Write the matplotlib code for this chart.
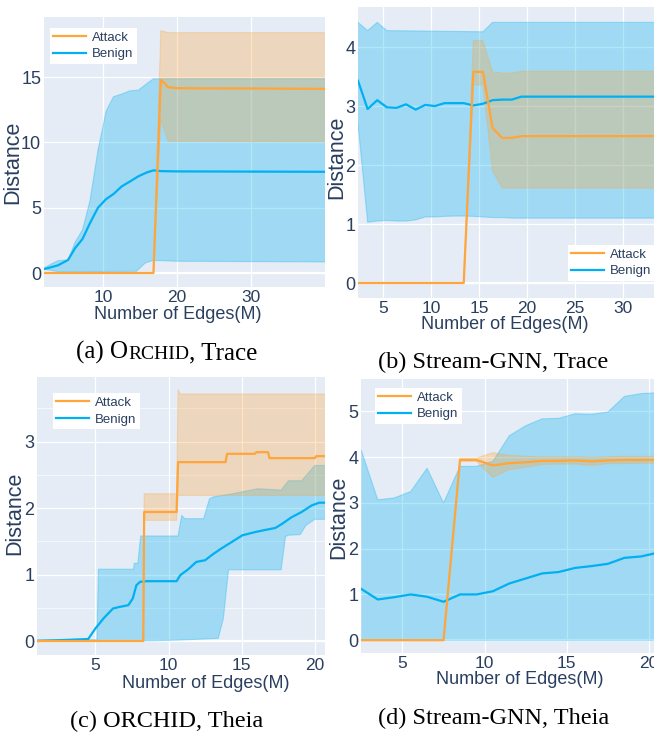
import matplotlib.pyplot as plt

W, H = 654, 732
BG = "#E5ECF6"
FONT_C = "#2a3f5f"
ORANGE = "#FFA53A"
BLUE = "#00B0F0"
SANS = "Liberation Sans"
SERIF = "Liberation Serif"

# ---------------- (a) ORCHID, Trace ----------------
a_ben_x = [2, 3, 3.9, 5.25, 6.2, 7.2, 8.2, 9.3, 10.4, 11.4, 12.5, 13.6, 14.75, 15.9, 16.8, 17.8, 20, 40]
a_ben = [0.3, 0.45, 0.59, 1.0, 1.9, 2.6, 3.8, 5.0, 5.66, 6.05, 6.63, 7.0, 7.4, 7.7, 7.86, 7.8, 7.78, 7.75]
a_ben_hi_x = [2, 3, 3.9, 5.25, 6.2, 7.2, 8.2, 9.3, 10.4, 11.4, 12.5, 13.6, 14.75, 15.9, 16.8, 40]
a_ben_hi = [0.38, 0.7, 0.95, 1.0, 2.35, 3.3, 5.5, 9.4, 12.4, 13.5, 13.7, 13.95, 14.0, 14.5, 14.87, 14.87]
a_ben_lo_x = [2, 3, 3.9, 14.5, 15.7, 16.8, 20, 40]
a_ben_lo = [0.3, 0.2, 0.1, 0.13, 0.77, 0.97, 0.9, 0.85]
a_att_x = [2, 16.8, 17.8, 18.8, 20, 40]
a_att = [0.0, 0.0, 14.8, 14.23, 14.15, 14.1]
a_att_hi_x = [2, 16.8, 17.8, 18.8, 40]
a_att_hi = [0.0, 0.0, 18.55, 18.4, 18.4]
a_att_lo_x = [2, 16.8, 17.8, 18.8, 40]
a_att_lo = [0.0, 0.0, 11.7, 10.08, 10.05]

# ---------------- (b) Stream-GNN, Trace ----------------
b_ben_x = [2.4, 3.4, 4.4, 5.4, 6.4, 7.4, 8.4, 9.4, 10.4, 11.4, 12.4, 13.4, 14.4, 15.4, 16.4, 17.4, 18.4, 19.4, 33.4]
b_ben = [3.43, 2.95, 3.1, 2.98, 2.97, 3.03, 2.94, 3.02, 3.0, 3.05, 3.05, 3.05, 3.01, 3.04, 3.1, 3.11, 3.11, 3.16, 3.16]
b_ben_hi_x = [2.4, 3.4, 4.4, 5.4, 15.4, 16.4, 33.4]
b_ben_hi = [4.42, 4.28, 4.42, 4.28, 4.26, 4.42, 4.42]
b_ben_lo_x = b_ben_x
b_ben_lo = [2.7, 1.03, 1.05, 1.06, 1.05, 1.05, 1.07, 1.12, 1.12, 1.13, 1.135, 1.135, 1.13, 1.12, 1.11, 1.11, 1.1, 1.1, 1.1]
b_att_x = [2.4, 13.4, 14.4, 15.4, 16.4, 17.4, 18.4, 19.4, 33.4]
b_att = [0, 0, 3.58, 3.58, 2.63, 2.46, 2.46, 2.49, 2.49]
b_att_hi = [0, 0, 4.11, 4.11, 3.58, 3.56, 3.56, 3.59, 3.59]
b_att_lo = [0, 0, 3.36, 3.36, 1.9, 1.61, 1.61, 1.61, 1.61]

# ---------------- (c) ORCHID, Theia ----------------
c_ben_x = [1.0, 4.5, 5.0, 5.55, 6.2, 6.7, 7.25, 7.55, 7.8, 8.05, 8.5, 10.55, 10.8, 11.35, 11.9, 12.5,
           13.0, 13.6, 14.4, 15.05, 15.95, 16.6, 17.3, 17.75, 18.4, 19.1, 19.8, 20.3, 20.7]
c_ben = [0.0, 0.03, 0.19, 0.34, 0.49, 0.515, 0.54, 0.64, 0.84, 0.89, 0.9, 0.9, 0.99, 1.08, 1.19, 1.215,
         1.3, 1.39, 1.5, 1.59, 1.64, 1.67, 1.7, 1.76, 1.86, 1.94, 2.04, 2.08, 2.08]
c_ben_hi_x = [1.0, 5.1, 5.2, 7.6, 7.65, 7.9, 8.05, 8.1, 10.65, 10.9, 11.1, 12.4, 12.8, 13.1, 14.0,
              16.1, 17.7, 18.2, 19.1, 20.0, 20.7]
c_ben_hi = [0.02, 0.02, 1.08, 1.08, 1.17, 1.17, 1.5, 1.58, 1.58, 1.89, 1.84, 1.84, 2.14, 2.17, 2.2,
            2.29, 2.27, 2.41, 2.41, 2.64, 2.64]
c_ben_lo_x = [1.0, 8.5, 10.9, 13.4, 13.75, 14.1, 17.7, 18.0, 18.2, 19.0, 19.4, 20.0, 20.7]
c_ben_lo = [0.0, 0.0, 0.015, 0.04, 0.34, 1.07, 1.07, 1.57, 1.59, 1.6, 1.74, 1.83, 1.83]
c_att_x = [1.0, 8.27, 8.33, 10.55, 10.65, 13.9, 14.0, 15.9, 16.0, 16.8, 16.9, 20.0, 20.1, 20.7]
c_att = [0, 0, 1.94, 1.94, 2.69, 2.69, 2.815, 2.815, 2.84, 2.84, 2.75, 2.75, 2.78, 2.78]
c_att_hi_x = [1.0, 8.27, 8.33, 10.55, 10.65, 10.8, 20.7]
c_att_hi = [0, 0, 2.215, 2.215, 3.78, 3.715, 3.715]
c_att_lo_x = [1.0, 8.27, 8.33, 10.55, 10.65, 20.7]
c_att_lo = [0, 0, 1.815, 1.815, 2.19, 2.19]

# ---------------- (d) Stream-GNN, Theia ----------------
d_x = [2.5, 3.5, 4.5, 5.5, 6.5, 7.5, 8.5, 9.5, 10.5, 11.5, 12.5, 13.5, 14.5, 15.5, 16.5, 17.5, 18.5, 19.5, 20.5]
d_ben = [1.12, 0.89, 0.94, 1.0, 0.95, 0.84, 1.0, 1.0, 1.07, 1.24, 1.35, 1.46, 1.49, 1.58, 1.62, 1.67, 1.8, 1.83, 1.91]
d_ben_hi = [4.15, 3.07, 3.11, 3.25, 3.76, 3.0, 3.8, 3.8, 3.91, 4.47, 4.69, 4.84, 4.85, 4.95, 4.94, 4.99, 5.33, 5.39, 5.41]
d_ben_lo = [0, 0, 0, 0, 0, 0, 0, 0, 0, 0, 0, 0, 0, 0, 0, 0, 0, 0, 0]
d_att = [0, 0, 0, 0, 0, 0, 3.94, 3.94, 3.82, 3.87, 3.89, 3.92, 3.92, 3.93, 3.91, 3.93, 3.94, 3.94, 3.94]
d_att_hi = [0, 0, 0, 0, 0, 0, 3.98, 3.98, 4.1, 4.04, 4.02, 4.01, 4.01, 4.01, 4.0, 4.01, 4.02, 4.02, 4.02]
d_att_lo = [0, 0, 0, 0, 0, 0, 3.91, 3.91, 3.56, 3.73, 3.78, 3.84, 3.85, 3.85, 3.82, 3.86, 3.86, 3.87, 3.87]


fig = plt.figure(figsize=(W / 100, H / 100), dpi=100)


def make_ax(left, top, right, bottom):
    return fig.add_axes([left / W, 1 - bottom / H, (right - left) / W, (bottom - top) / H])


def band(ax, xh, yh, xl, yl, color):
    xs = list(xh) + list(xl)[::-1]
    ys = list(yh) + list(yl)[::-1]
    ax.fill(xs, ys, color=color, alpha=0.3, lw=0, zorder=2)
    ax.plot(xh, yh, color=color, alpha=0.3, lw=0.8, zorder=2)
    ax.plot(xl, yl, color=color, alpha=0.3, lw=0.8, zorder=2)


def panel(ax, ben, att, xlim, ylim, xticks, yticks, leg_pos, xlab_pos, ylab_pos):
    ax.set_facecolor(BG)
    for s in ax.spines.values():
        s.set_visible(False)
    band(ax, *ben[2:], BLUE)
    band(ax, *att[2:], ORANGE)
    ax.plot(ben[0], ben[1], color=BLUE, lw=1.6, zorder=3, label="Benign")
    ax.plot(att[0], att[1], color=ORANGE, lw=1.6, zorder=4, label="Attack")
    ax.set_xlim(*xlim)
    ax.set_ylim(*ylim)
    ax.set_xticks(xticks)
    ax.set_yticks(yticks)
    ax.grid(True, color="white", lw=0.9, zorder=0)
    ax.axhline(0, color="white", lw=1.6, zorder=1)
    ax.set_axisbelow(True)
    ax.tick_params(length=0, pad=2, labelcolor=FONT_C)
    ax.tick_params(axis="x", labelsize=12.5, pad=2)
    ax.tick_params(axis="y", labelsize=13)
    for lab in ax.get_xticklabels() + ax.get_yticklabels():
        lab.set_family(SANS)
    ax.set_xlabel("Number of Edges(M)", fontsize=13, color=FONT_C, family=SANS, va="center")
    ax.xaxis.set_label_coords(*xlab_pos)
    ax.set_ylabel("Distance", fontsize=15.5, color=FONT_C, family=SANS, va="center")
    ax.yaxis.set_label_coords(*ylab_pos)
    h, l = ax.get_legend_handles_labels()
    leg = ax.legend(h[::-1], l[::-1], loc="upper left", bbox_to_anchor=leg_pos,
                    prop={"family": SANS, "size": 9.5}, frameon=True, fancybox=False,
                    framealpha=1, facecolor="white", edgecolor="none", borderpad=0.25,
                    handlelength=2.5, handletextpad=0.45, labelspacing=0.35, borderaxespad=0)
    for t in leg.get_texts():
        t.set_color(FONT_C)
    leg.set_zorder(10)


ax_a = make_ax(44, 17, 325, 287)
panel(ax_a,
      (a_ben_x, a_ben, a_ben_hi_x, a_ben_hi, a_ben_lo_x, a_ben_lo),
      (a_att_x, a_att, a_att_hi_x, a_att_hi, a_att_lo_x, a_att_lo),
      (2, 40), (-1.07, 19.6), [10, 20, 30], [0, 5, 10, 15],
      (0.021, 0.959), (0.477, -0.102), (-0.11, 0.46))

ax_b = make_ax(358, 7, 654, 298)
panel(ax_b,
      (b_ben_x, b_ben, b_ben_hi_x, b_ben_hi, b_ben_lo_x, b_ben_lo),
      (b_att_x, b_att, b_att_x, b_att_hi, b_att_x, b_att_lo),
      (2.4, 33.2), (-0.254, 4.68), [5, 10, 15, 20, 25, 30], [0, 1, 2, 3, 4],
      (0.709, 0.182), (0.497, -0.09), (-0.072, 0.485))

ax_c = make_ax(37, 377, 325, 655)
panel(ax_c,
      (c_ben_x, c_ben, c_ben_hi_x, c_ben_hi, c_ben_lo_x, c_ben_lo),
      (c_att_x, c_att, c_att_hi_x, c_att_hi, c_att_lo_x, c_att_lo),
      (1.0, 20.7), (-0.21, 3.97), [5, 10, 15, 20], [0, 1, 2, 3],
      (0.056, 0.942), (0.587, -0.102), (-0.078, 0.51))
ax_c.set_yticks([0.5, 1.5, 2.5, 3.5], minor=True)
ax_c.tick_params(which="minor", length=0)
ax_c.grid(True, which="minor", axis="y", color="white", lw=0.6, alpha=0.7, zorder=0)

ax_d = make_ax(361, 379, 654, 653)
panel(ax_d,
      (d_x, d_ben, d_x, d_ben_hi, d_x, d_ben_lo),
      (d_x, d_att, d_x, d_att_hi, d_x, d_att_lo),
      (2.48, 20.3), (-0.28, 5.71), [5, 10, 15, 20], [0, 1, 2, 3, 4, 5],
      (0.048, 0.967), (0.543, -0.097), (-0.077, 0.496))


# captions (a: ORCHID in small caps)
def caption(parts, cx, cy):
    r = fig.canvas.get_renderer()
    texts = [fig.text(0, 1 - cy / H, s, fontsize=sz, family=SERIF, color="black", va="baseline")
             for s, sz in parts]
    widths = [t.get_window_extent(r).width for t in texts]
    x = cx - sum(widths) / 2
    for t, w in zip(texts, widths):
        t.set_x(x / W)
        x += w


caption([("(a) O", 18), ("RCHID", 14), (", Trace", 18)], 167, 359)
caption([("(b) Stream-GNN, Trace", 17.5)], 493, 368)
caption([("(c) ORCHID, Theia", 17.5)], 167, 727)
caption([("(d) Stream-GNN, Theia", 17.5)], 494, 724)

fig.savefig("out.png", dpi=100, facecolor="white")
